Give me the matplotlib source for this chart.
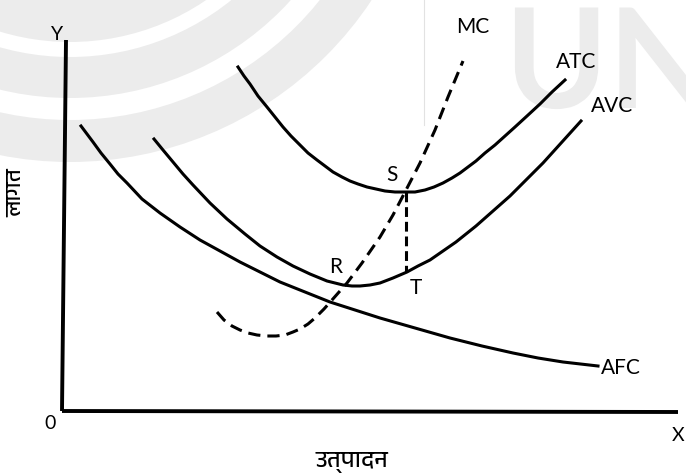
import matplotlib
matplotlib.use("Agg")
import matplotlib.pyplot as plt
from matplotlib import font_manager as fm
from matplotlib.patches import Wedge, PathPatch
from matplotlib.textpath import TextPath
from matplotlib.font_manager import FontProperties

# ---------------- data (output Q, cost C) ----------------
afc_q = [19, 25, 31, 39, 48, 56, 65, 80, 98, 118, 138, 158, 178, 198, 218, 243, 268, 293, 318, 353, 388, 420, 451, 476, 501, 536]
afc_c = [285, 277, 269, 258, 247, 237, 228, 212, 198, 184, 171, 160, 149, 139, 129, 119, 109, 101, 93, 83, 73, 65, 58, 53, 49, 45]

avc_q = [92, 101, 111, 121, 131, 148, 165, 183, 198, 215, 231, 248, 265, 273, 281, 290, 298, 308, 318, 331, 345, 356, 368, 381, 394, 414, 431, 448, 465, 481, 500, 519]
avc_c = [272, 261, 249, 237, 226, 208, 192, 177, 165, 154, 145, 137, 130, 128, 126, 125, 125, 126, 128, 133, 139, 145, 151, 160, 169, 185, 200, 215, 232, 248, 269, 290]

atc_q = [176, 182, 188, 196, 205, 213, 221, 229, 238, 246, 255, 263, 271, 280, 288, 296, 305, 314, 323, 333, 343, 353, 363, 372, 381, 390, 398, 406, 414, 423, 433, 443, 453, 465, 478, 490, 503]
atc_c = [344, 335, 327, 315, 304, 294, 284, 275, 266, 258, 251, 245, 239, 234, 230, 227, 224, 222, 220, 219, 219, 219, 221, 224, 228, 233, 238, 244, 250, 258, 266, 275, 284, 295, 307, 319, 331]

mc_q = [155, 162, 170, 178, 186, 195, 205, 214, 223, 231, 238, 246, 253, 262, 270, 285, 300, 318, 331, 343, 358, 373, 386, 401]
mc_c = [99, 91, 85, 81, 78, 76, 75, 75, 76, 79, 82, 87, 93, 102, 111, 128, 148, 174, 196, 219, 248, 281, 314, 350]

st_q = [344, 344]
st_c = [219, 139]

yaxis_q = [4, 0]
yaxis_c = [371, 0]
xaxis_q = [0, 616]
xaxis_c = [0, -1]

curve_labels = ["MC", "ATC", "AVC", "AFC"]
point_labels = ["S", "R", "T"]
x_label = "उत्पादन"
y_label = "लागत"

# ---------------- fonts ----------------
def find_deva_font():
    try:
        from fontTools.ttLib import TTFont
    except Exception:
        return None
    cands = sorted(fm.fontManager.ttflist, key=lambda f: 0 if "Devanagari" in f.name else 1)
    for f in cands:
        try:
            tt = TTFont(f.fname, fontNumber=0, lazy=True)
            cmap = tt.getBestCmap()
            if cmap and 0x0932 in cmap and 0x0924 in cmap:
                return f.name
        except Exception:
            continue
    return None

deva = find_deva_font()
deva_family = [deva, "DejaVu Sans"] if deva else ["DejaVu Sans"]
latin = ["Lato", "DejaVu Sans"]

# ---------------- figure ----------------
fig = plt.figure(figsize=(6.86, 4.73), dpi=100)
ax = fig.add_axes([0, 0, 1, 1])
ax.set_xlim(-62, 624)
ax.set_ylim(-62, 411)
ax.axis("off")

# watermark (background artwork)
wm = "#ececec"
for r_out, w in [(362, 42), (298, 41), (242, 45)]:
    ax.add_patch(Wedge((8, 611), r_out, 180, 360, width=w, facecolor=wm, edgecolor="none", zorder=0))
tp = TextPath((443, 303), "UN", size=139, prop=FontProperties(family="Lato", weight="bold"))
ax.add_patch(PathPatch(tp, facecolor=wm, edgecolor="none", zorder=0))
ax.plot([362, 362], [411, 286], color="#e2e2e2", lw=0.8, zorder=0)

lw = 2.2
k = "black"
ax.plot(yaxis_q, yaxis_c, color=k, lw=2.8, solid_capstyle="butt")
ax.plot(xaxis_q, xaxis_c, color=k, lw=2.8, solid_capstyle="butt")
for q, c in [(afc_q, afc_c), (avc_q, avc_c), (atc_q, atc_c)]:
    ax.plot(q, c, color=k, lw=lw, solid_joinstyle="round")
ax.plot(mc_q, mc_c, color=k, lw=lw, dashes=(4, 2.3), dash_joinstyle="round")
ax.plot(st_q, st_c, color=k, lw=lw, dashes=(3.2, 1.6))

fs = 15
ax.text(411, 384, curve_labels[0], fontsize=fs, family=latin, ha="center", va="center")
ax.text(514, 349, curve_labels[1], fontsize=fs, family=latin, ha="center", va="center")
ax.text(550, 305, curve_labels[2], fontsize=fs, family=latin, ha="center", va="center")
ax.text(539, 43, curve_labels[3], fontsize=fs, family=latin, ha="left", va="center")
ax.text(330, 236, point_labels[0], fontsize=fs, family=latin, ha="center", va="center")
ax.text(274, 144, point_labels[1], fontsize=fs, family=latin, ha="center", va="center")
ax.text(354, 123, point_labels[2], fontsize=fs, family=latin, ha="center", va="center")
ax.text(-5, 376, "Y", fontsize=14, family=latin, ha="center", va="center")
ax.text(-12, -12, "0", fontsize=14, family=latin, ha="center", va="center")
ax.text(616, -24, "X", fontsize=14, family=latin, ha="center", va="center")
ax.text(290, -52, x_label, fontsize=17, family=deva_family, ha="center", va="center")
ax.text(-46, 218, y_label, fontsize=16, family=deva_family, ha="center", va="center", rotation=90)

fig.savefig("out.png", dpi=100)
